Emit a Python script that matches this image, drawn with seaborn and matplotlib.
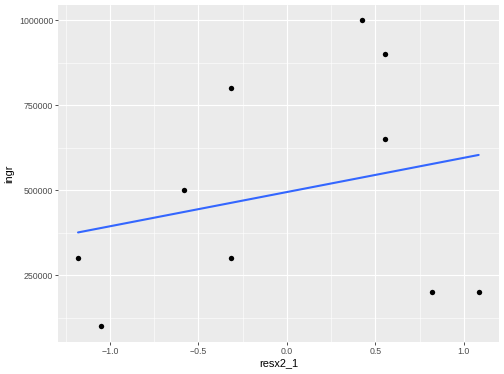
import numpy as np
import pandas as pd
import matplotlib
matplotlib.use('Agg')
import matplotlib.pyplot as plt
import seaborn as sns
from matplotlib.ticker import MultipleLocator, FixedLocator

# dados
resx2_1 = [-1.18, -1.05, -0.58, -0.313, -0.313, 0.422, 0.555, 0.555, 0.818, 1.084]
ingr = [300000, 100000, 500000, 800000, 300000, 1000000, 900000, 650000, 200000, 200000]
df = pd.DataFrame({'resx2_1': resx2_1, 'ingr': ingr})

sns.set_theme(style='darkgrid', rc={
    'axes.facecolor': '#EBEBEB',
    'grid.color': 'white',
    'axes.edgecolor': '#EBEBEB',
})
plt.rcParams['font.family'] = ['Liberation Sans', 'DejaVu Sans']

fig = plt.figure(figsize=(5.04, 3.74), dpi=100)
ax = fig.add_axes([58 / 504, 1 - 341.7 / 374, (498.7 - 58) / 504, (341.7 - 5) / 374])

sns.regplot(data=df, x='resx2_1', y='ingr', ci=None, ax=ax,
            scatter_kws={'s': 15, 'color': 'black', 'linewidths': 0, 'alpha': 1},
            line_kws={'color': '#3366FF', 'linewidth': 1.5})

xmin, xmax = min(resx2_1), max(resx2_1)
dx = (xmax - xmin) * 0.05
ax.set_xlim(xmin - dx, xmax + dx)
ymin, ymax = min(ingr), max(ingr)
dy = (ymax - ymin) * 0.05
ax.set_ylim(ymin - dy, ymax + dy)

ax.xaxis.set_major_locator(MultipleLocator(0.5))
ax.xaxis.set_minor_locator(FixedLocator([-1.25, -0.75, -0.25, 0.25, 0.75]))
ax.yaxis.set_major_locator(FixedLocator([250000, 500000, 750000, 1000000]))
ax.yaxis.set_minor_locator(FixedLocator([125000, 375000, 625000, 875000]))
ax.set_yticklabels(['250000', '500000', '750000', '1000000'])

ax.grid(which='major', color='white', linewidth=0.8)
ax.grid(which='minor', color='white', linewidth=0.4)
for s in ax.spines.values():
    s.set_visible(False)

ax.tick_params(which='major', length=2, width=0.6, color='#333333',
               labelsize=6.3, labelcolor='#4D4D4D', pad=1.5, left=True, bottom=True)
ax.tick_params(which='minor', length=0)
ax.set_xlabel('resx2_1', fontsize=7.9, color='black', labelpad=2)
ax.set_ylabel('ingr', fontsize=7.9, color='black', labelpad=3)

fig.savefig('out.png', dpi=100)
